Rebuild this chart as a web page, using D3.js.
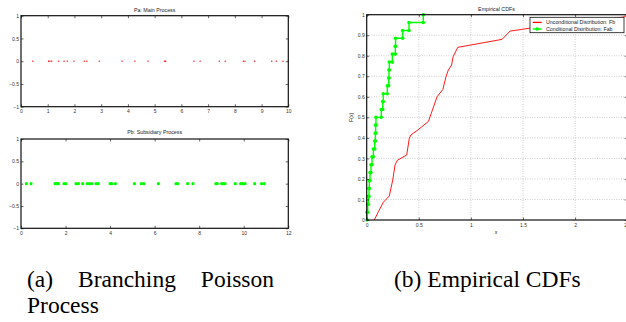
<!DOCTYPE html>
<html>
<head>
<meta charset="utf-8">
<script src="https://cdn.jsdelivr.net/npm/d3@7"></script>
<style>
  body { margin: 0; background: #fff; }
  svg { display: block; }
  .tick text { font-family: 'Liberation Sans', Arial, sans-serif; font-size: 5px; fill: #333; }
  .title { font-family: 'Liberation Sans', Arial, sans-serif; font-size: 5.3px; fill: #222; }
  .caption { font-family: 'Liberation Serif', 'Times New Roman', serif; font-size: 23.5px; fill: #000; }
</style>
</head>
<body>
<svg id="fig" width="626" height="322"></svg>
<script>
// Pa: main process event times (red dots)
var mainEvents = [0.44, 1.03, 1.08, 1.15, 1.41, 1.61, 1.73, 1.98, 2.37, 2.46, 2.93, 3.78,
  4.26, 4.75, 5.37, 5.41, 6.47, 6.70, 7.42, 7.64, 8.32, 8.38, 8.74, 9.38, 9.55, 9.80, 10.0];
// Pb: subsidiary process event times (green dots)
var subEvents = [0.24, 0.45, 1.53, 1.60, 1.68, 1.93, 2.01, 2.47, 2.57, 2.77, 2.98, 3.07,
  3.17, 3.37, 3.47, 4.00, 4.07, 4.24, 5.09, 5.40, 5.51, 6.17, 6.96, 7.03, 7.48, 7.72,
  8.75, 8.81, 9.01, 9.08, 9.16, 9.62, 9.86, 9.94, 10.06, 10.49, 10.80, 10.92];

// unconditional distribution Fb (red line)
var fbX = [0.073, 0.112, 0.159, 0.217, 0.25, 0.272, 0.293, 0.384, 0.409, 0.424, 0.495, 0.592,
  0.62, 0.675, 0.731, 0.761, 0.783, 0.815, 0.829, 0.874, 1.30, 1.375, 1.56, 1.85, 2.2, 2.48, 2.5];
var fbF = [0, 0.04, 0.086, 0.117, 0.195, 0.268, 0.29, 0.317, 0.398, 0.414, 0.44, 0.48,
  0.52, 0.6, 0.636, 0.698, 0.73, 0.755, 0.795, 0.841, 0.88, 0.92, 0.934, 0.95, 0.97, 0.99, 1];

// conditional distribution Fab (green stairs): jump positions and level after jump
var fabX = [0.003, 0.010, 0.016, 0.022, 0.025, 0.032, 0.041, 0.051, 0.064, 0.077, 0.083, 0.086,
  0.089, 0.140, 0.154, 0.159, 0.198, 0.211, 0.214, 0.217, 0.246, 0.275, 0.277, 0.345, 0.406, 0.543];
var fabF = [0.038, 0.077, 0.115, 0.154, 0.192, 0.231, 0.269, 0.308, 0.346, 0.385, 0.423, 0.462,
  0.5, 0.538, 0.577, 0.615, 0.654, 0.692, 0.731, 0.769, 0.808, 0.846, 0.885, 0.923, 0.962, 1];

var yTicksA = [-1, -0.5, 0, 0.5, 1];
var xTicksMain = d3.range(0, 11);
var xTicksSub = [0, 2, 4, 6, 8, 10, 12];
var xTicksCdf = [0, 0.5, 1, 1.5, 2, 2.5];
var yTicksCdf = [0, 0.1, 0.2, 0.3, 0.4, 0.5, 0.6, 0.7, 0.8, 0.9, 1];

var svg = d3.select('#fig');

function frame(g, x, y, xt, yt) {
  var x0 = x.range()[0], x1 = x.range()[1], y0 = y.range()[0], y1 = y.range()[1];
  g.append('g').attr('transform', 'translate(0,' + y0 + ')')
    .call(d3.axisBottom(x).tickValues(xt).tickSize(-2.5).tickSizeOuter(0).tickPadding(3)
      .tickFormat(d3.format('')));
  g.append('g').attr('transform', 'translate(0,' + y1 + ')')
    .call(d3.axisTop(x).tickValues(xt).tickSize(-2.5).tickSizeOuter(0).tickFormat(''));
  g.append('g').attr('transform', 'translate(' + x0 + ',0)')
    .call(d3.axisLeft(y).tickValues(yt).tickSize(-2.5).tickSizeOuter(0).tickPadding(2)
      .tickFormat(d3.format('')));
  g.append('g').attr('transform', 'translate(' + x1 + ',0)')
    .call(d3.axisRight(y).tickValues(yt).tickSize(-2.5).tickSizeOuter(0).tickFormat(''));
  g.selectAll('.domain').remove();
  g.selectAll('.tick line').attr('stroke', '#000').attr('stroke-width', 0.6);
  g.append('rect')
    .attr('x', x0).attr('y', y1).attr('width', x1 - x0).attr('height', y0 - y1)
    .attr('fill', 'none').attr('stroke', '#111').attr('stroke-width', 1.2);
}

// ---- panel (a) top: main process
var xa = d3.scaleLinear().domain([0, 10]).range([21, 288.3]);
var ya = d3.scaleLinear().domain([-1, 1]).range([106.7, 15.7]);
var ga = svg.append('g');
ga.selectAll('rect.ev').data(mainEvents).enter().append('rect')
  .attr('class', 'ev')
  .attr('x', function (d) { return xa(d) - 0.6; })
  .attr('y', ya(0) - 0.6)
  .attr('width', 1.2).attr('height', 1.2)
  .attr('fill', '#f00');
frame(ga, xa, ya, xTicksMain, yTicksA);
ga.append('text').attr('class', 'title')
  .attr('x', (xa.range()[0] + xa.range()[1]) / 2).attr('y', 12)
  .attr('text-anchor', 'middle').text('Pa: Main Process');

// ---- panel (a) bottom: subsidiary process
var xb = d3.scaleLinear().domain([0, 12]).range([21, 288.3]);
var yb = d3.scaleLinear().domain([-1, 1]).range([228.3, 139]);
var gb = svg.append('g');
gb.selectAll('circle').data(subEvents).enter().append('circle')
  .attr('cx', function (d) { return xb(d); })
  .attr('cy', yb(0))
  .attr('r', 1.6)
  .attr('fill', '#0f0');
frame(gb, xb, yb, xTicksSub, yTicksA);
gb.append('text').attr('class', 'title')
  .attr('x', (xb.range()[0] + xb.range()[1]) / 2).attr('y', 133.6)
  .attr('text-anchor', 'middle').text('Pb: Subsidiary Process');

// ---- panel (b): empirical CDFs
var xc = d3.scaleLinear().domain([0, 2.5]).range([366.7, 627.2]);
var yc = d3.scaleLinear().domain([0, 1]).range([220, 14.7]);
var gc = svg.append('g');

// dotted grid
gc.selectAll('line.gx').data(xTicksCdf.slice(1)).enter().append('line')
  .attr('x1', function (d) { return xc(d); }).attr('x2', function (d) { return xc(d); })
  .attr('y1', yc(0)).attr('y2', yc(1))
  .attr('stroke', '#999').attr('stroke-width', 0.6).attr('stroke-dasharray', '0.8,1.6');
gc.selectAll('line.gy').data(yTicksCdf.slice(1, -1)).enter().append('line')
  .attr('y1', function (d) { return yc(d); }).attr('y2', function (d) { return yc(d); })
  .attr('x1', xc(0)).attr('x2', xc(2.5))
  .attr('stroke', '#999').attr('stroke-width', 0.6).attr('stroke-dasharray', '0.8,1.6');

var fb = fbX.map(function (d, i) { return [d, fbF[i]]; });
gc.append('path').datum(fb)
  .attr('d', d3.line().x(function (d) { return xc(d[0]); }).y(function (d) { return yc(d[1]); }))
  .attr('fill', 'none').attr('stroke', '#f00').attr('stroke-width', 0.9);

var fab = [];
fabX.forEach(function (d, i) {
  fab.push([d, i === 0 ? 0 : fabF[i - 1]]);
  fab.push([d, fabF[i]]);
});
gc.append('path').datum(fab)
  .attr('d', d3.line().x(function (d) { return xc(d[0]); }).y(function (d) { return yc(d[1]); }))
  .attr('fill', 'none').attr('stroke', '#0f0').attr('stroke-width', 1.4);
gc.selectAll('circle.m').data(fab).enter().append('circle')
  .attr('class', 'm')
  .attr('cx', function (d) { return xc(d[0]); })
  .attr('cy', function (d) { return yc(d[1]); })
  .attr('r', 1.8).attr('fill', '#0f0');

frame(gc, xc, yc, xTicksCdf, yTicksCdf);

gc.append('text').attr('class', 'title')
  .attr('x', 496.5).attr('y', 11).attr('text-anchor', 'middle').text('Empirical CDFs');
gc.append('text').attr('class', 'title')
  .attr('x', 496).attr('y', 234).attr('text-anchor', 'middle').text('x');
gc.append('text').attr('class', 'title')
  .attr('transform', 'translate(352.5,117.4) rotate(-90)')
  .attr('text-anchor', 'middle').text('F(x)');

// legend
var lg = gc.append('g');
lg.append('rect').attr('x', 530).attr('y', 17.3).attr('width', 94).attr('height', 15.4)
  .attr('fill', '#fff').attr('stroke', '#111').attr('stroke-width', 0.8);
lg.append('line').attr('x1', 532.7).attr('x2', 541.7).attr('y1', 22.4).attr('y2', 22.4)
  .attr('stroke', '#f00').attr('stroke-width', 1.3);
lg.append('line').attr('x1', 532.7).attr('x2', 541.7).attr('y1', 29).attr('y2', 29)
  .attr('stroke', '#0f0').attr('stroke-width', 1.4);
lg.append('circle').attr('cx', 537.2).attr('cy', 29).attr('r', 1.8).attr('fill', '#0f0');
lg.append('text').attr('class', 'title').attr('x', 546).attr('y', 24.2)
  .text('Unconditional Distribution: Fb');
lg.append('text').attr('class', 'title').attr('x', 546).attr('y', 30.8)
  .text('Conditional Distribution: Fab');

// captions
var cap = svg.append('g').attr('class', 'caption');
cap.append('text').attr('x', 27).attr('y', 287).text('(a)');
cap.append('text').attr('x', 78).attr('y', 287).text('Branching');
cap.append('text').attr('x', 274).attr('y', 287).attr('text-anchor', 'end').text('Poisson');
cap.append('text').attr('x', 27).attr('y', 313).text('Process');
cap.append('text').attr('x', 394).attr('y', 287).text('(b) Empirical CDFs');
</script>
</body>
</html>
